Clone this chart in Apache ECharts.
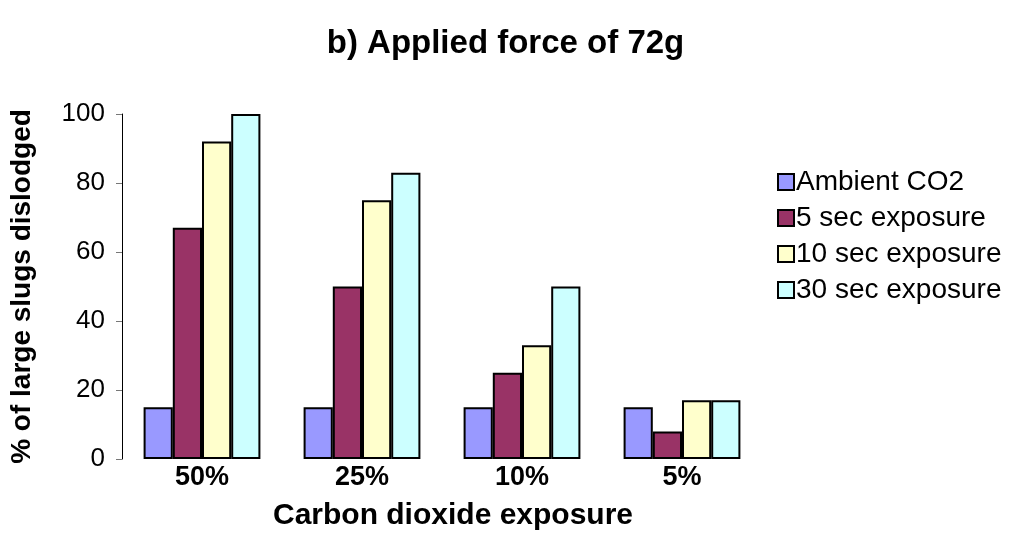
<!DOCTYPE html>
<html><head><meta charset="utf-8">
<script src="https://cdn.jsdelivr.net/npm/echarts@6/dist/echarts.min.js"></script>
<style>html,body{margin:0;padding:0;background:#fff}#c{width:1011px;height:558px}</style>
</head><body><div id="c"></div>
<script>
const categories = ['50%', '25%', '10%', '5%'];
const seriesNames = ['Ambient CO2', '5 sec exposure', '10 sec exposure', '30 sec exposure'];
const ambient = [15, 15, 15, 15];
const sec5 = [67, 50, 25, 8];
const sec10 = [92, 75, 33, 17];
const sec30 = [100, 83, 50, 17];
const yTicks = [0, 20, 40, 60, 80, 100];
const colors = ['#9999FF', '#993366', '#FFFFCC', '#CCFFFF'];
const values = [ambient, sec5, sec10, sec30];
const font = '"Liberation Sans", Arial, sans-serif';
const chart = echarts.init(document.getElementById('c'));
chart.setOption({
  animation: false,
  title: { text: 'b) Applied force of 72g', left: 'center', top: 22,
    textStyle: { fontFamily: font, fontSize: 33, fontWeight: 'bold', color: '#000' } },
  legend: { orient: 'vertical', left: 772, top: 163, itemWidth: 16, itemHeight: 16, itemGap: 8,
    icon: 'rect', data: seriesNames,
    itemStyle: { borderColor: '#000', borderWidth: 2 },
    textStyle: { fontFamily: font, fontSize: 28, color: '#000', lineHeight: 28, padding: [0, 0, 0, -3] } },
  grid: { left: 122, right: 249, top: 114, bottom: 99 },
  xAxis: { type: 'category', data: categories,
    axisLine: { show: false }, axisTick: { show: false },
    axisLabel: { fontFamily: font, fontSize: 27, fontWeight: 'bold', color: '#000', margin: 5 },
    name: 'Carbon dioxide exposure', nameLocation: 'middle', nameGap: 42,
    nameTextStyle: { fontFamily: font, fontSize: 30, fontWeight: 'bold', color: '#000', padding: [0, 0, 0, 22] } },
  yAxis: { type: 'value', min: 0, max: 100, interval: 20,
    axisLine: { show: true, lineStyle: { color: '#000', width: 1 } },
    axisTick: { show: true, length: 6, lineStyle: { color: '#777' } },
    splitLine: { show: false },
    axisLabel: { fontFamily: font, fontSize: 26, color: '#000', margin: 17,
      formatter: v => yTicks.includes(v) ? String(v) : '' },
    name: '% of large slugs dislodged', nameLocation: 'middle', nameGap: 86,
    nameTextStyle: { fontFamily: font, fontSize: 28, fontWeight: 'bold', color: '#000' } },
  series: seriesNames.map((n, i) => ({
    name: n, type: 'bar', data: values[i], barGap: '0%', barCategoryGap: '27%',
    itemStyle: { color: colors[i], borderColor: '#000', borderWidth: 2 }
  }))
});
</script></body></html>
